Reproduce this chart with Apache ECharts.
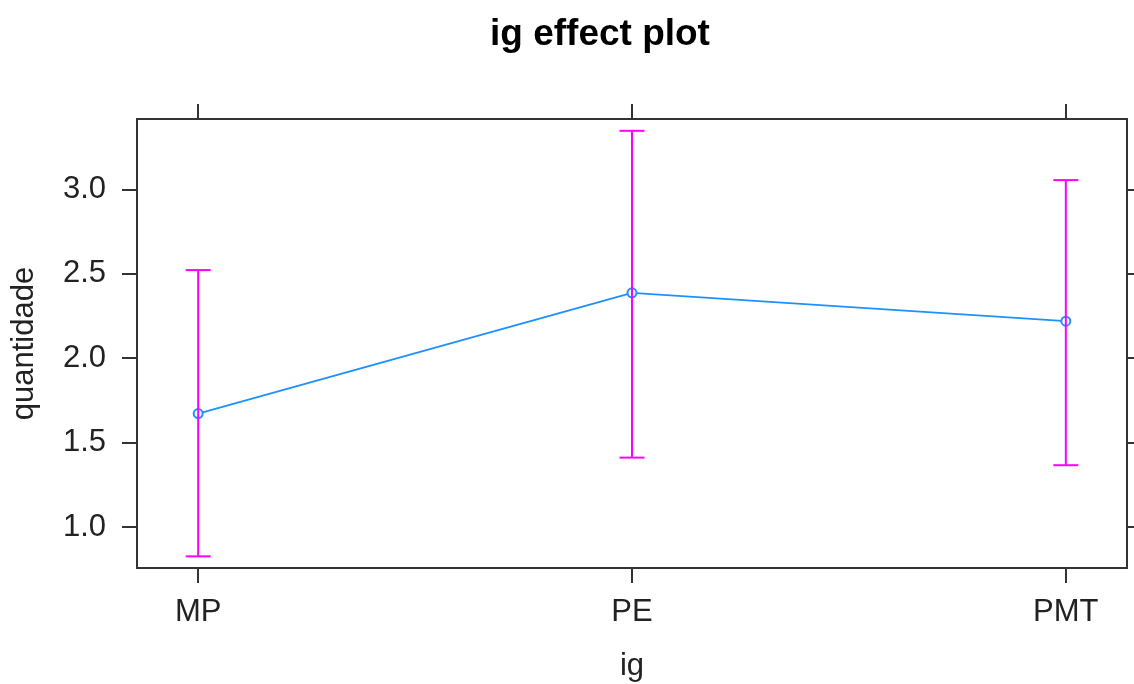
<!DOCTYPE html>
<html>
<head>
<meta charset="utf-8">
<title>ig effect plot</title>
<script src="https://cdn.jsdelivr.net/npm/echarts@6/dist/echarts.min.js"></script>
<style>
  html, body { margin: 0; padding: 0; background: #ffffff; }
  #chart { width: 1134px; height: 684px; }
</style>
</head>
<body>
<div id="chart"></div>
<script>
// Levels of the factor "ig"
const categories = ['MP', 'PE', 'PMT'];
// Fitted effect and its confidence limits for each level
const fitValues = [1.672, 2.387, 2.219];
const lowerValues = [0.826, 1.411, 1.366];
const upperValues = [2.522, 3.347, 3.055];
// Tick positions on the response axis
const yTicks = [1.0, 1.5, 2.0, 2.5, 3.0];

const FONT = "'Liberation Sans', Arial, sans-serif";
const xIdx = categories.map((c, i) => i);
const xMin = -0.141, xMax = 2.141;
const yMin = 0.757, yMax = 3.417;

const lineData = categories.map((c, i) => [i, fitValues[i]]);
const barData = categories.map((c, i) => [i, lowerValues[i], upperValues[i]]);

const tickStyle = { show: true, length: 15, lineStyle: { color: '#333', width: 2 } };
const hiddenLine = { show: false, onZero: false };

const chart = echarts.init(document.getElementById('chart'), null, { renderer: 'canvas' });
chart.setOption({
  animation: false,
  backgroundColor: '#ffffff',
  title: {
    text: 'ig effect plot',
    left: 485,
    top: 11,
    textStyle: { fontFamily: FONT, fontSize: 37, fontWeight: 'bold', color: '#000' }
  },
  grid: {
    left: 137, right: 7, top: 119, bottom: 116,
    outerBoundsMode: 'none',
    containLabel: false,
    show: true, borderColor: '#333', borderWidth: 2, backgroundColor: 'transparent'
  },
  xAxis: [
    {
      type: 'value', min: xMin, max: xMax, position: 'bottom',
      name: 'ig', nameLocation: 'middle', nameGap: 83,
      nameTextStyle: { fontFamily: FONT, fontSize: 31, color: '#222' },
      axisLine: hiddenLine,
      splitLine: { show: false },
      axisTick: Object.assign({ customValues: xIdx }, tickStyle),
      axisLabel: {
        customValues: xIdx, margin: 29,
        fontFamily: FONT, fontSize: 31, color: '#222',
        formatter: v => categories[Math.round(v)]
      }
    },
    {
      type: 'value', min: xMin, max: xMax, position: 'top',
      axisLine: hiddenLine,
      splitLine: { show: false },
      axisTick: Object.assign({ customValues: xIdx }, tickStyle),
      axisLabel: { show: false }
    }
  ],
  yAxis: [
    {
      type: 'value', min: yMin, max: yMax, position: 'left',
      name: 'quantidade', nameLocation: 'middle', nameGap: 97, nameRotate: 90,
      nameTextStyle: { fontFamily: FONT, fontSize: 31, color: '#222' },
      axisLine: hiddenLine,
      splitLine: { show: false },
      axisTick: Object.assign({ customValues: yTicks }, tickStyle),
      axisLabel: {
        customValues: yTicks, margin: 31,
        fontFamily: FONT, fontSize: 31, color: '#222',
        formatter: v => v.toFixed(1)
      }
    },
    {
      type: 'value', min: yMin, max: yMax, position: 'right',
      axisLine: hiddenLine,
      splitLine: { show: false },
      axisTick: Object.assign({ customValues: yTicks }, tickStyle),
      axisLabel: { show: false }
    }
  ],
  series: [
    {
      type: 'line',
      data: lineData,
      xAxisIndex: 0, yAxisIndex: 0,
      symbol: 'emptyCircle', symbolSize: 9,
      lineStyle: { color: '#1E90FF', width: 1.8 },
      itemStyle: { color: '#1E90FF', borderWidth: 1.5 },
      z: 2
    },
    {
      type: 'custom',
      data: barData,
      xAxisIndex: 0, yAxisIndex: 0,
      z: 3,
      renderItem: function (params, api) {
        const x = api.value(0);
        const lo = api.coord([x, api.value(1)]);
        const hi = api.coord([x, api.value(2)]);
        const half = 12.5;
        const style = { stroke: '#FF00FF', lineWidth: 2 };
        return {
          type: 'group',
          children: [
            { type: 'line', shape: { x1: lo[0], y1: lo[1], x2: hi[0], y2: hi[1] }, style: style },
            { type: 'line', shape: { x1: hi[0] - half, y1: hi[1], x2: hi[0] + half, y2: hi[1] }, style: style },
            { type: 'line', shape: { x1: lo[0] - half, y1: lo[1], x2: lo[0] + half, y2: lo[1] }, style: style }
          ]
        };
      }
    }
  ]
});
</script>
</body>
</html>
